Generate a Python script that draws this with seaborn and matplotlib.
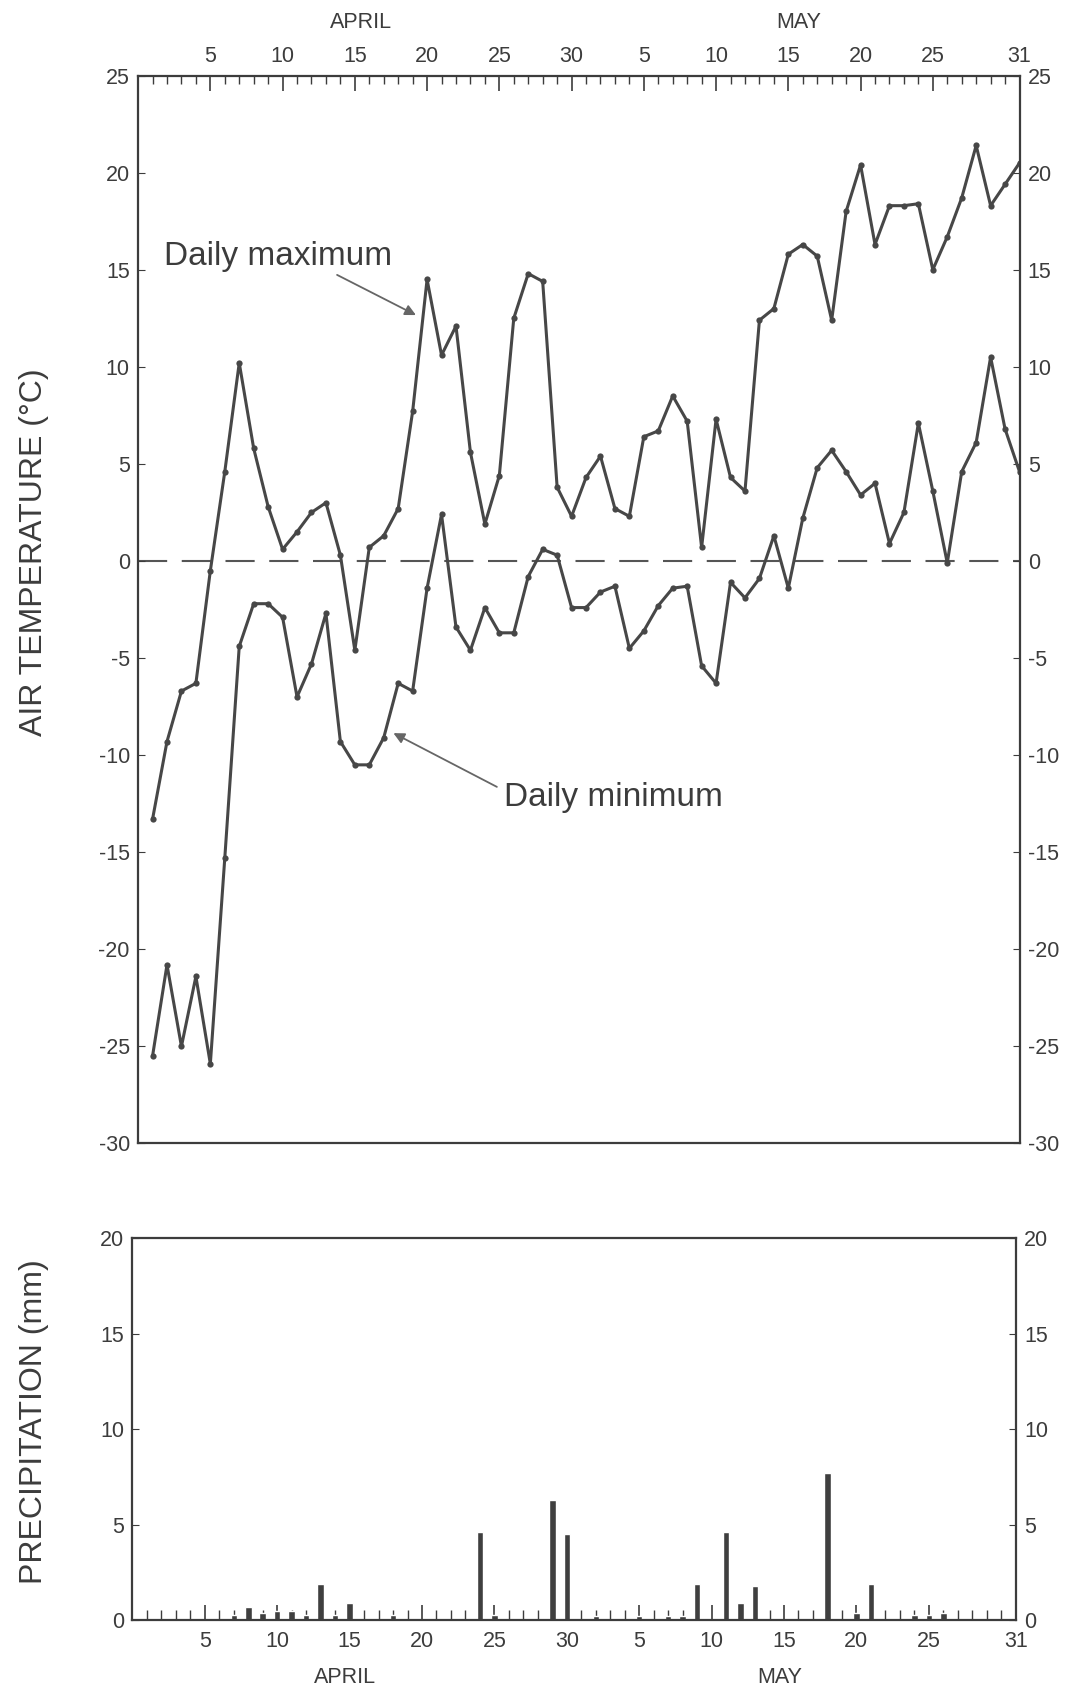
import numpy as np
import pandas as pd
import matplotlib
matplotlib.use("Agg")
import matplotlib.pyplot as plt
import seaborn as sns

# ---------------- data ----------------
days = list(range(1, 62))  # 1..30 = April 1-30, 31..61 = May 1-31

t_max = [-13.3, -9.3, -6.7, -6.3, -0.5, 4.6, 10.2, 5.8, 2.8, 0.6,
         1.5, 2.5, 3.0, 0.3, -4.6, 0.7, 1.3, 2.7, 7.7, 14.5,
         10.6, 12.1, 5.6, 1.9, 4.4, 12.5, 14.8, 14.4, 3.8, 2.3,
         4.3, 5.4, 2.7, 2.3, 6.4, 6.7, 8.5, 7.2, 0.7, 7.3,
         4.3, 3.6, 12.4, 13.0, 15.8, 16.3, 15.7, 12.4, 18.0, 20.4,
         16.3, 18.3, 18.3, 18.4, 15.0, 16.7, 18.7, 21.4, 18.3, 19.4,
         20.5]

t_min = [-25.5, -20.8, -25.0, -21.4, -25.9, -15.3, -4.4, -2.2, -2.2, -2.9,
         -7.0, -5.3, -2.7, -9.3, -10.5, -10.5, -9.1, -6.3, -6.7, -1.4,
         2.4, -3.4, -4.6, -2.4, -3.7, -3.7, -0.8, 0.6, 0.3, -2.4,
         -2.4, -1.6, -1.3, -4.5, -3.6, -2.3, -1.4, -1.3, -5.4, -6.3,
         -1.1, -1.9, -0.9, 1.3, -1.4, 2.2, 4.8, 5.7, 4.6, 3.4,
         4.0, 0.9, 2.5, 7.1, 3.6, -0.1, 4.6, 6.1, 10.5, 6.8,
         4.6]

precip_days = [7, 8, 9, 10, 11, 12, 13, 14, 15, 18, 24, 25, 29, 30, 32,
               35, 37, 38, 39, 41, 42, 43, 48, 50, 51, 54, 55, 56]
precip_mm = [0.3, 0.7, 0.4, 0.5, 0.5, 0.3, 1.9, 0.3, 0.9, 0.3, 4.6, 0.3, 6.3, 4.5, 0.2,
             0.2, 0.2, 0.2, 1.9, 4.6, 0.9, 1.8, 7.7, 0.4, 1.9, 0.3, 0.3, 0.4]

day_ticks = [5, 10, 15, 20, 25, 30, 35, 40, 45, 50, 55, 61]
day_tick_labels = ["5", "10", "15", "20", "25", "30", "5", "10", "15", "20", "25", "31"]
temp_ticks = [25, 20, 15, 10, 5, 0, -5, -10, -15, -20, -25, -30]
precip_ticks = [0, 5, 10, 15, 20]

# ---------------- style ----------------
sns.set_style("white")
plt.rcParams['font.family'] = ['Liberation Sans', 'DejaVu Sans']
ink = "#3c3c3c"
plt.rcParams['text.color'] = ink
plt.rcParams['axes.edgecolor'] = ink
plt.rcParams['xtick.color'] = ink
plt.rcParams['ytick.color'] = ink

fig = plt.figure(figsize=(10.68, 16.91), dpi=100)
ax = fig.add_axes([0.1293, 0.3238, 0.8253, 0.6315])
ax2 = fig.add_axes([0.124, 0.0418, 0.827, 0.226])

temp_df = pd.DataFrame({"day": days, "max": t_max, "min": t_min})
line_kw = dict(color="#474747", linewidth=2.2, marker="o", markersize=4.5,
               markeredgewidth=0, ax=ax)
sns.lineplot(data=temp_df, x="day", y="max", **line_kw)
sns.lineplot(data=temp_df, x="day", y="min", **line_kw)
ax.axhline(0, color="#555555", linewidth=1.5, linestyle=(0, (14, 7)), zorder=0)

ax.set_xlim(0, 61)
ax.set_ylim(-30, 25)
ax.set_xlabel("")
ax.set_ylabel("")
ax.set_xticks(day_ticks)
ax.set_xticklabels(day_tick_labels)
ax.set_xticks(range(1, 62), minor=True)
ax.set_yticks(temp_ticks)
ax.set_yticklabels([str(t) for t in temp_ticks])
ax.tick_params(axis="x", which="both", direction="in", top=True, bottom=False,
               labeltop=True, labelbottom=False, labelsize=15.5, pad=6)
ax.tick_params(axis="x", which="major", length=11, width=1.2)
ax.tick_params(axis="x", which="minor", length=6, width=1.0)
ax.tick_params(axis="y", which="major", direction="in", left=True, right=True,
               labelleft=True, labelright=True, labelsize=15.5, length=5, pad=6)
for s in ax.spines.values():
    s.set_linewidth(1.6)
    s.set_color(ink)

ax.text(15.4, 1.05, "APRIL", transform=ax.get_xaxis_transform(),
        ha="center", va="center", fontsize=15.5)
ax.text(45.7, 1.05, "MAY", transform=ax.get_xaxis_transform(),
        ha="center", va="center", fontsize=15.5)

ax.text(1.8, 15.7, "Daily maximum", fontsize=24, ha="left", va="center")
ax.annotate("", xy=(19.4, 12.6), xytext=(13.6, 14.8),
            arrowprops=dict(arrowstyle="-|>", color="#666666", lw=1.3,
                            mutation_scale=16))
ax.text(25.3, -12.2, "Daily minimum", fontsize=24, ha="left", va="center")
ax.annotate("", xy=(17.5, -8.8), xytext=(25.0, -11.7),
            arrowprops=dict(arrowstyle="-|>", color="#666666", lw=1.3,
                            mutation_scale=16))

# ---------------- precipitation ----------------
precip_df = pd.DataFrame({"day": precip_days, "mm": precip_mm})
sns.barplot(data=precip_df, x="day", y="mm", native_scale=True, width=0.45,
            color="#3f3f3f", saturation=1, ax=ax2)
ax2.set_xlim(0, 61)
ax2.set_ylim(0, 20)
ax2.set_xlabel("")
ax2.set_ylabel("")
ax2.set_xticks(day_ticks)
ax2.set_xticklabels(day_tick_labels)
ax2.set_xticks(range(1, 62), minor=True)
ax2.set_yticks(precip_ticks)
ax2.set_yticklabels([str(p) for p in precip_ticks])
ax2.tick_params(axis="x", which="both", direction="in", top=False, bottom=True,
                labelsize=15.5, pad=8)
ax2.tick_params(axis="x", which="major", length=11, width=1.2)
ax2.tick_params(axis="x", which="minor", length=7, width=1.0)
ax2.tick_params(axis="y", which="major", direction="in", left=True, right=True,
                labelleft=True, labelright=True, labelsize=15.5, length=5, pad=6)
for s in ax2.spines.values():
    s.set_linewidth(1.6)
    s.set_color(ink)

ax2.text(14.7, -0.15, "APRIL", transform=ax2.get_xaxis_transform(),
         ha="center", va="center", fontsize=15.5)
ax2.text(44.7, -0.15, "MAY", transform=ax2.get_xaxis_transform(),
         ha="center", va="center", fontsize=15.5)

fig.text(34.5 / 1068, 1 - 552 / 1691, "AIR TEMPERATURE (°C)", rotation=90,
         ha="center", va="center", fontsize=23)
fig.text(34.5 / 1068, 1 - 1422 / 1691, "PRECIPITATION (mm)", rotation=90,
         ha="center", va="center", fontsize=23)

fig.savefig("out.png", dpi=100, facecolor="white")
